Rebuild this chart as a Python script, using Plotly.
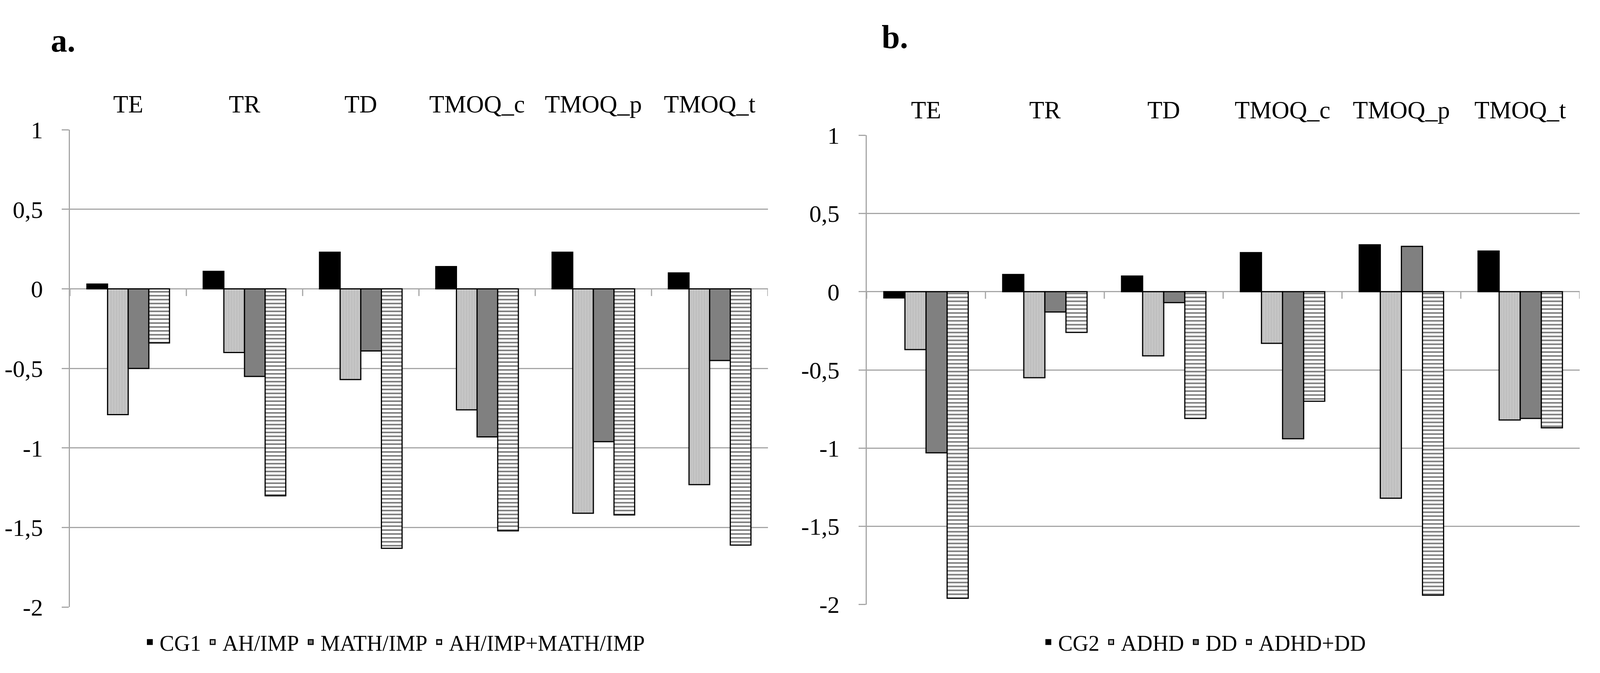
import plotly.graph_objects as go

tests = ["TE", "TR", "TD", "TMOQ_c", "TMOQ_p", "TMOQ_t"]

# panel a
cg1 = [0.03, 0.11, 0.23, 0.14, 0.23, 0.10]
ah_imp = [-0.79, -0.40, -0.57, -0.76, -1.41, -1.23]
math_imp = [-0.50, -0.55, -0.39, -0.93, -0.96, -0.45]
ah_math_imp = [-0.34, -1.30, -1.63, -1.52, -1.42, -1.61]

# panel b
cg2 = [-0.04, 0.11, 0.10, 0.25, 0.30, 0.26]
adhd = [-0.37, -0.55, -0.41, -0.33, -1.32, -0.82]
dd = [-1.03, -0.13, -0.07, -0.94, 0.29, -0.81]
adhd_dd = [-1.96, -0.26, -0.81, -0.70, -1.94, -0.87]

ytick_vals = [1, 0.5, 0, -0.5, -1, -1.5, -2]
ytick_text = ["1", "0,5", "0", "-0,5", "-1", "-1,5", "-2"]

FONT = "Liberation Serif"
GRID = "#a6a6a6"

styles = [
    dict(color="black", pattern=dict(shape="")),
    dict(color="#bfbfbf", pattern=dict(shape="|", fgcolor="#d6d6d6", size=7, solidity=0.3)),
    dict(color="#808080", pattern=dict(shape="")),
    dict(color="white", pattern=dict(shape="-", fgcolor="black", size=10, solidity=0.4)),
]

fig = go.Figure()

panels = [
    ("x", "y", "legend", [("CG1", cg1), ("AH/IMP", ah_imp), ("MATH/IMP", math_imp),
                          ("AH/IMP+MATH/IMP", ah_math_imp)]),
    ("x2", "y2", "legend2", [("CG2", cg2), ("ADHD", adhd), ("DD", dd), ("ADHD+DD", adhd_dd)]),
]

for xa, ya, lg, series in panels:
    for (name, vals), st in zip(series, styles):
        fig.add_trace(go.Bar(
            x=tests, y=vals, name=name, xaxis=xa, yaxis=ya, legend=lg,
            marker=dict(color=st["color"], pattern=st["pattern"],
                        line=dict(color="black", width=3)),
        ))
    # small category ticks on the zero line
    for i in range(len(tests) + 1):
        fig.add_shape(type="line", xref=xa, yref=ya, x0=i - 0.5, x1=i - 0.5,
                      y0=0, y1=-0.045, line=dict(color=GRID, width=3), layer="below")

xcommon = dict(type="category", side="top", showgrid=False, showline=False, ticks="",
               tickfont=dict(family=FONT, size=63, color="black"), ticklabelstandoff=30,
               range=[-0.5, 5.5], fixedrange=True)
ycommon = dict(range=[-2, 1], tickvals=ytick_vals, ticktext=ytick_text,
               showgrid=True, gridcolor=GRID, gridwidth=3,
               zeroline=True, zerolinecolor=GRID, zerolinewidth=3,
               showline=True, linecolor=GRID, linewidth=3,
               ticks="outside", ticklen=18, tickwidth=3, tickcolor=GRID,
               tickfont=dict(family=FONT, size=62, color="black"), ticklabelstandoff=36)

legcommon = dict(orientation="h", xanchor="center", yanchor="middle", y=0.022,
                 font=dict(family=FONT, size=56, color="black"), bgcolor="rgba(0,0,0,0)",
                 itemwidth=40, tracegroupgap=0)

fig.update_layout(
    autosize=True,
    margin=dict(l=0, r=0, t=0, b=0),
    paper_bgcolor="white", plot_bgcolor="white",
    barmode="group", bargap=0.29, bargroupgap=0,
    xaxis=dict(domain=[0.0420, 0.4798], anchor="y", **xcommon),
    yaxis=dict(domain=[0.0766, 0.8224], anchor="x", **ycommon),
    xaxis2=dict(domain=[0.5418, 0.9892], anchor="y2", **xcommon),
    yaxis2=dict(domain=[0.0807, 0.8137], anchor="x2", **ycommon),
    legend=dict(x=0.245, **legcommon),
    legend2=dict(x=0.753, **legcommon),
    annotations=[
        dict(text="<b>a.</b>", x=0.0294, y=0.962, xref="paper", yref="paper",
             xanchor="left", yanchor="middle", showarrow=False,
             font=dict(family=FONT, size=84, color="black")),
        dict(text="<b>b.</b>", x=0.5507, y=0.9675, xref="paper", yref="paper",
             xanchor="left", yanchor="middle", showarrow=False,
             font=dict(family=FONT, size=84, color="black")),
    ],
)

fig.write_html("out.html")
